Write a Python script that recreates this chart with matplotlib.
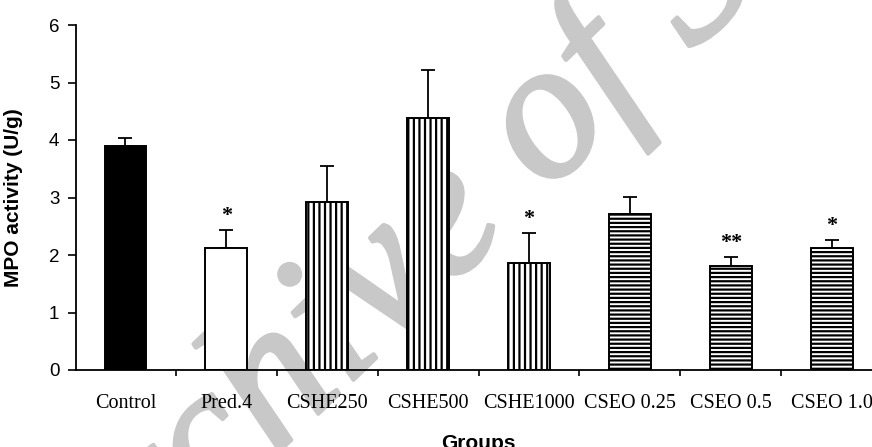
import matplotlib
matplotlib.use('Agg')
import matplotlib.pyplot as plt
import matplotlib.patheffects as pe
import numpy as np

# Data
groups = ['Control', 'Pred.4', 'CSHE250', 'CSHE500', 'CSHE1000',
          'CSEO 0.25', 'CSEO 0.5', 'CSEO 1.0']
mpo_mean = [3.89, 2.13, 2.93, 4.39, 1.86, 2.72, 1.81, 2.12]
mpo_err = [0.14, 0.30, 0.61, 0.83, 0.52, 0.29, 0.16, 0.14]
signif = ['', '*', '', '', '*', '', '**', '*']

fills = ['black', 'white', 'white', 'white', 'white', 'white', 'white', 'white']
hatches = ['', '', '|||', '|||', '|||', '----', '----', '----']

plt.rcParams['hatch.linewidth'] = 1.6
plt.rcParams['hatch.color'] = 'black'

fig = plt.figure(figsize=(8.72, 4.47), dpi=100)
ax = fig.add_axes([76 / 872, 1 - 370 / 447, 1 - 76 / 872, 345 / 447])
ax.set_facecolor('none')

# watermark
fig.text(0.5665, 0.454, 'Archive of SID', color='#c8c8c8', fontsize=142,
         family='Liberation Serif', style='italic',
         rotation=44, ha='center', va='baseline', rotation_mode='anchor',
         zorder=-1,
         path_effects=[pe.withStroke(linewidth=3, foreground='#c8c8c8')])

x = np.arange(len(groups))
zeros = np.zeros(len(groups))
ax.errorbar(x, mpo_mean, yerr=[zeros, mpo_err], fmt='none', ecolor='black',
            elinewidth=1.3, capsize=5, capthick=1.3, zorder=1)
for xi, m, c, h in zip(x, mpo_mean, fills, hatches):
    ax.bar(xi, m, width=0.415, color=c, edgecolor='black', hatch=h,
           linewidth=1.4, zorder=2)

for xi, m, e, s in zip(x, mpo_mean, mpo_err, signif):
    if s:
        ax.annotate(s, xy=(xi, m + e), xytext=(0, 3), textcoords='offset points',
                    ha='center', va='bottom', fontsize=16,
                    family='Liberation Serif', weight='bold')

ax.set_ylim(0, 6)
ax.set_xlim(-0.49, 7.40)
ax.spines['top'].set_visible(False)
ax.spines['right'].set_visible(False)
for sp in ['left', 'bottom']:
    ax.spines[sp].set_linewidth(1.3)

ax.set_yticks(range(7))
ax.tick_params(axis='y', direction='out', length=6, width=1.2, pad=6,
               labelsize=13.5)
for lab in ax.get_yticklabels():
    lab.set_family('Liberation Sans')

ax.set_xticks(x[:-1] + 0.5)
ax.set_xticklabels([])
ax.tick_params(axis='x', which='major', direction='out', length=4, width=1.2)
ax.set_xticks(x, minor=True)
ax.set_xticklabels(groups, minor=True, family='Liberation Serif', fontsize=14.5)
ax.tick_params(axis='x', which='minor', length=0, pad=17)

ax.set_ylabel('MPO activity (U/g)', family='Liberation Sans', weight='bold',
              fontsize=15)
ax.yaxis.set_label_coords(-0.066, 0.5)
ax.set_xlabel('Groups', family='Liberation Sans', weight='bold', fontsize=15)
ax.xaxis.set_label_coords(0.505, -0.185)

fig.savefig('out.png', dpi=100)
